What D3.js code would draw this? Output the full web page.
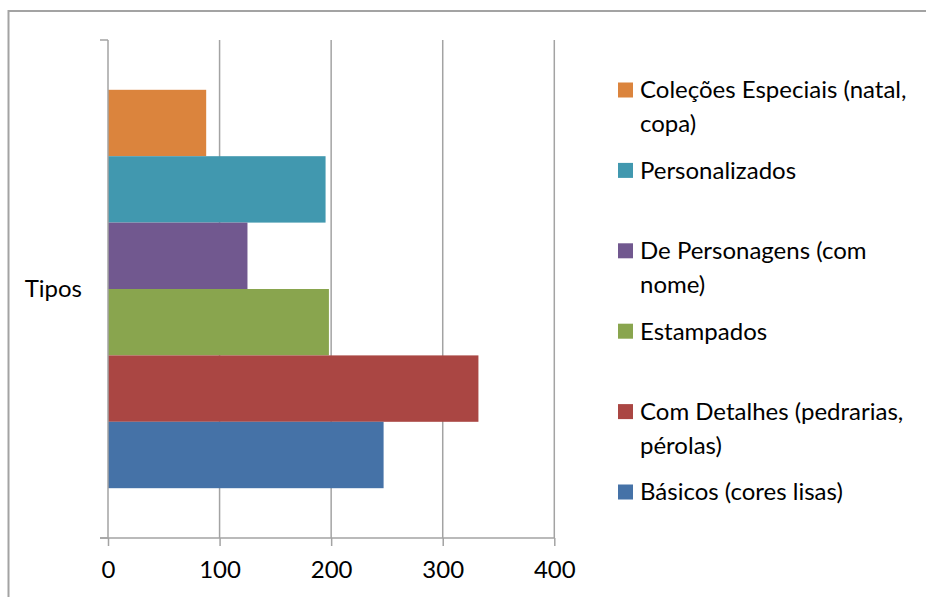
<!DOCTYPE html>
<html>
<head>
<meta charset="utf-8">
<script src="https://cdn.jsdelivr.net/npm/d3@7"></script>
<style>
  html, body { margin: 0; padding: 0; background: #fff; }
  svg { display: block; }
  text { font-family: Lato, "Open Sans", sans-serif; fill: #000; }
</style>
</head>
<body>
<svg id="chart" width="926" height="597"></svg>
<script>
// Series, listed from the top bar to the bottom bar
const seriesNames = [
  "Coleções Especiais (natal, copa)",
  "Personalizados",
  "De Personagens (com nome)",
  "Estampados",
  "Com Detalhes (pedrarias, pérolas)",
  "Básicos (cores lisas)"
];
const seriesValues = [88, 195, 125, 198, 332, 247];
const seriesColors = ["#DB843D", "#4198AF", "#71588F", "#89A54E", "#AA4643", "#4572A7"];
// Legend text, broken into lines as it wraps
const legendLines = [
  ["Coleções Especiais (natal,", "copa)"],
  ["Personalizados"],
  ["De Personagens (com", "nome)"],
  ["Estampados"],
  ["Com Detalhes (pedrarias,", "pérolas)"],
  ["Básicos (cores lisas)"]
];
const categories = ["Tipos"];
const xTicks = [0, 100, 200, 300, 400];

const FONT = 24;
const svg = d3.select("#chart");

// Outer chart frame
svg.append("rect")
  .attr("x", 8.5).attr("y", 11)
  .attr("width", 1000).attr("height", 1000)
  .attr("fill", "none").attr("stroke", "#a3a3a3").attr("stroke-width", 2);

const plot = { left: 108, right: 554.3, top: 40, bottom: 538 };

const x = d3.scaleLinear().domain([0, 400]).range([plot.left, plot.right]);
const yCat = d3.scaleBand().domain(categories)
  .range([plot.top, plot.bottom]).paddingInner(0).paddingOuter(0.125);
const ySeries = d3.scaleBand().domain(seriesNames)
  .range([0, yCat.bandwidth()]).padding(0);

const gridColor = "#a3a3a3";

// Vertical gridlines
svg.append("g").selectAll("line")
  .data(xTicks.filter(d => d > 0))
  .join("line")
  .attr("x1", d => x(d)).attr("x2", d => x(d))
  .attr("y1", plot.top).attr("y2", plot.bottom)
  .attr("stroke", gridColor).attr("stroke-width", 1.5);

// Bars
const g = svg.append("g").attr("transform", `translate(0,${yCat("Tipos")})`);
g.selectAll("rect")
  .data(seriesNames.map((n, i) => ({ name: n, value: seriesValues[i], color: seriesColors[i] })))
  .join("rect")
  .attr("x", x(0))
  .attr("y", d => ySeries(d.name))
  .attr("width", d => x(d.value) - x(0))
  .attr("height", ySeries.bandwidth())
  .attr("fill", d => d.color);

// Horizontal (value) axis
const xAxis = d3.axisBottom(x).tickValues(xTicks).tickSizeInner(8).tickSizeOuter(0).tickPadding(15);
const xg = svg.append("g").attr("transform", `translate(0,${plot.bottom})`).call(xAxis);
xg.select(".domain").attr("d", `M${plot.left - 8},0H${plot.right}`)
  .attr("stroke", gridColor).attr("stroke-width", 1.5);
xg.selectAll(".tick line").attr("stroke", gridColor).attr("stroke-width", 1.5);
xg.selectAll(".tick text")
  .style("font-family", "Lato, 'Open Sans', sans-serif")
  .attr("font-size", FONT).attr("fill", "#000");

// Vertical (category) axis with boundary ticks
const yAxisG = svg.append("g");
yAxisG.append("line")
  .attr("x1", plot.left).attr("x2", plot.left)
  .attr("y1", plot.top).attr("y2", plot.bottom)
  .attr("stroke", gridColor).attr("stroke-width", 1.5);
yAxisG.selectAll("line.bound")
  .data(yCat.range())
  .join("line").attr("class", "bound")
  .attr("x1", plot.left - 8).attr("x2", plot.left)
  .attr("y1", d => d).attr("y2", d => d)
  .attr("stroke", gridColor).attr("stroke-width", 1.5);
yAxisG.selectAll("text")
  .data(categories)
  .join("text")
  .attr("x", 82)
  .attr("y", d => yCat(d) + yCat.bandwidth() / 2)
  .attr("dy", "0.35em")
  .attr("text-anchor", "end")
  .attr("font-size", FONT)
  .text(d => d);

// Legend
const legendY = d3.scalePoint().domain(seriesNames).range([90, 492]);
const lg = svg.append("g");
const item = lg.selectAll("g")
  .data(seriesNames.map((n, i) => ({ name: n, color: seriesColors[i], lines: legendLines[i] })))
  .join("g")
  .attr("transform", d => `translate(618,${legendY(d.name)})`);
item.append("rect")
  .attr("x", 0).attr("y", -7.5)
  .attr("width", 15).attr("height", 15)
  .attr("fill", d => d.color);
item.each(function (d) {
  const t = d3.select(this).append("text")
    .attr("x", 22).attr("y", 0)
    .attr("font-size", FONT);
  d.lines.forEach((line, j) => {
    t.append("tspan").attr("x", 22).attr("y", j * 34).attr("dy", "0.35em").text(line);
  });
});
</script>
</body>
</html>
